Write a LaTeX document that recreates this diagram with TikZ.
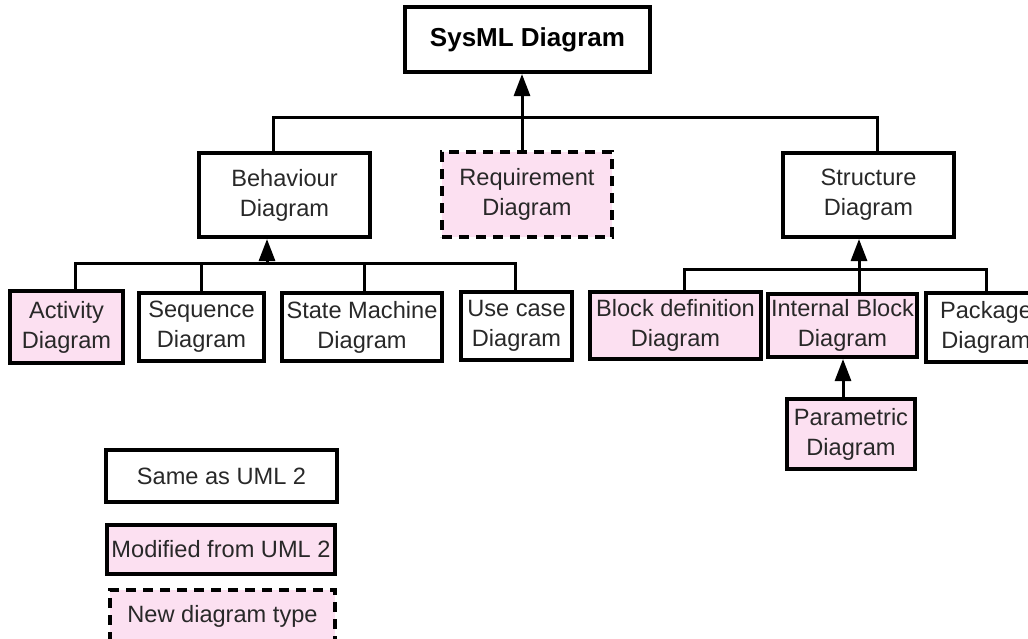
\documentclass[tikz,border=0pt]{standalone}
\usepackage{fontspec}
\setmainfont{Liberation Sans}
\usepackage{xcolor}
\usetikzlibrary{arrows.meta, calc}
\definecolor{modpink}{RGB}{252,224,241}
\definecolor{txtgrey}{RGB}{40,40,40}
\tikzstyle{diag} = [draw=black, line width=2pt, align=center, inner sep=0pt, text=txtgrey, font=\fontsize{11.8}{15}\selectfont]
\tikzstyle{modified} = [diag, fill=modpink]
\tikzstyle{newtype} = [diag, fill=modpink, dash pattern=on 5pt off 3.5pt]
\tikzstyle{link} = [line width=1.5pt]
\tikzstyle{arrow} = [link, -{Triangle[length=11pt,width=8pt]}]

\begin{document}
\begin{tikzpicture}[x=0.5pt, y=-0.5pt]
    \useasboundingbox (0,0) rectangle (1028,638);

    % Root
    \node[diag, font=\fontsize{13}{15}\selectfont\bfseries, text=black, minimum width=122.5pt, minimum height=32.5pt] (sysml) at (527.5,39.5) {SysML Diagram};

    % Second level
    \node[diag, minimum width=85.5pt, minimum height=42pt] (behav) at (284.5,195) {Behaviour\\Diagram};
    \node[newtype, minimum width=85pt, minimum height=42.5pt] (req) at (527,194.5) {Requirement\\Diagram};
    \node[diag, minimum width=85.5pt, minimum height=42pt] (struct) at (868.5,195) {Structure\\Diagram};

    % Behaviour children
    \node[modified, minimum width=56.5pt, minimum height=36pt] (act) at (66.5,327) {Activity\\Diagram};
    \node[diag, minimum width=62.5pt, minimum height=34pt] (seq) at (201.5,327) {Sequence\\Diagram};
    \node[diag, minimum width=80pt, minimum height=34pt] (sm) at (362,327) {State Machine\\Diagram};
    \node[diag, minimum width=55.5pt, minimum height=34pt] (uc) at (516.5,326) {Use case\\Diagram};

    % Structure children
    \node[modified, minimum width=85.5pt, minimum height=33.5pt] (bdd) at (675.5,325.5) {Block definition\\Diagram};
    \node[modified, minimum width=74.5pt, minimum height=31.5pt] (ibd) at (842.5,325.5) {Internal Block\\Diagram};
    \node[diag, minimum width=60pt, minimum height=34.5pt] (pkg) at (986,327.5) {Package\\Diagram};
    \node[modified, minimum width=64pt, minimum height=35pt] (par) at (851,434) {Parametric\\Diagram};

    % Key
    \node[diag, minimum width=115.5pt, minimum height=26pt] (same) at (221.5,476) {Same as UML 2};
    \node[modified, minimum width=114pt, minimum height=24.5pt] (mod) at (221,549.5) {Modified from UML 2};
    \node[newtype, minimum width=112.5pt, minimum height=26pt] (new) at (222.5,616) {New diagram type};

    % Generalisation to root
    \coordinate (topbus) at (522,117);
    \draw[arrow] (topbus |- req.north) -- (topbus |- sysml.south);
    \draw[link] ([xshift=-5.75pt]behav.north) |- (topbus) -| ([xshift=4.25pt]struct.north);

    % Behaviour tree
    \coordinate (lbus) at (267,263);
    \draw[arrow] (lbus) -- (lbus |- behav.south);
    \draw[link] ([xshift=4.25pt]act.north) |- ([xshift=-0.75pt]uc.north |- lbus) -- ([xshift=-0.75pt]uc.north);
    \draw[link] (seq.north) -- (seq.north |- lbus);
    \draw[link] ([xshift=1pt]sm.north) -- ([xshift=1pt]sm.north |- lbus);

    % Structure tree
    \coordinate (rbus) at (859,269);
    \draw[arrow] (rbus |- ibd.north) -- (rbus |- struct.south);
    \draw[link] ([xshift=4.25pt]bdd.north) |- (rbus) -| (pkg.north);
    \draw[arrow] ([xshift=-4pt]par.north) -- ([xshift=-4pt]par.north |- ibd.south);
\end{tikzpicture}
\end{document}
